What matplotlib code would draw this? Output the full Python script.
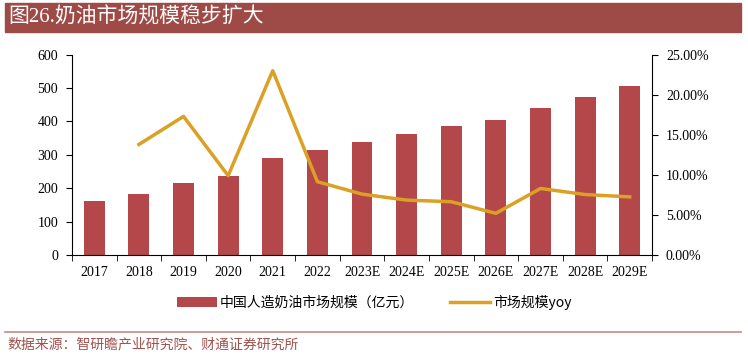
import matplotlib.pyplot as plt
from matplotlib.patches import Rectangle
from matplotlib.lines import Line2D

years = ['2017', '2018', '2019', '2020', '2021', '2022', '2023E',
         '2024E', '2025E', '2026E', '2027E', '2028E', '2029E']
market_size = [161, 184, 215, 236, 290, 316, 339, 361, 386, 405, 439, 472, 506]
yoy_years = years[1:]
yoy = [13.8, 17.3, 9.9, 23.0, 9.15, 7.6, 6.85, 6.65, 5.2, 8.3, 7.55, 7.25]

bar_color = '#B3474A'
line_color = '#DBA024'
serif = ['Liberation Serif', 'Noto Sans CJK SC']
cjk = ['Noto Sans CJK SC', 'DejaVu Sans']

fig = plt.figure(figsize=(7.48, 3.56), dpi=100)

# title bar
fig.patches.append(Rectangle((5 / 748, 1 - 32 / 356), 736 / 748, 29 / 356,
                             transform=fig.transFigure, color='#9E4A46', zorder=0))
fig.text(8 / 748, 1 - 18 / 356, '图26.奶油市场规模稳步扩大', color='white',
         fontsize=15, va='center', ha='left', family=serif)

# bottom rule + source
fig.add_artist(Line2D([5 / 748, 741 / 748], [1 - 332 / 356, 1 - 332 / 356],
                      transform=fig.transFigure, color='#C88A85', lw=1.2))
fig.text(7 / 748, 1 - 344 / 356, '数据来源：智研瞻产业研究院、财通证券研究所',
         color='#A0524D', fontsize=10, va='center', ha='left', family=cjk)

ax = fig.add_axes([72 / 748, 1 - 255 / 356, 580 / 748, 200.3 / 356])
x = list(range(len(years)))
ax.bar(x, market_size, width=0.47, color=bar_color, zorder=2,
       label='中国人造奶油市场规模（亿元）')
ax.set_xlim(-0.5, len(years) - 0.5)
ax.set_ylim(0, 600)
ax.set_yticks(range(0, 601, 100))
ax.set_xticks(x)
ax.set_xticklabels(years)
ax.tick_params(axis='x', length=0, pad=8)
ax.set_xticks([i + 0.5 for i in range(-1, len(years))], minor=True)
ax.tick_params(axis='x', which='minor', length=4, direction='out')
ax.tick_params(axis='y', length=4, direction='out', pad=6)
for lab in ax.get_xticklabels() + ax.get_yticklabels():
    lab.set_family(serif)
    lab.set_fontsize(10)
for s in ['top', 'right']:
    ax.spines[s].set_visible(False)

ax2 = ax.twinx()
ax2.plot(x[1:], yoy, color=line_color, lw=2.5, zorder=3, label='市场规模yoy')
ax2.set_ylim(0, 25)
ax2.set_yticks(range(0, 26, 5))
ax2.set_yticklabels([f'{v:.2f}%' for v in range(0, 26, 5)])
ax2.tick_params(axis='y', length=4, direction='out', pad=6)
for lab in ax2.get_yticklabels():
    lab.set_family(serif)
    lab.set_fontsize(10)
for s in ['top', 'left', 'bottom']:
    ax2.spines[s].set_visible(False)

h1, l1 = ax.get_legend_handles_labels()
h2, l2 = ax2.get_legend_handles_labels()
leg = fig.legend(h1 + h2, l1 + l2, loc='center', bbox_to_anchor=(0.5, 1 - 302 / 356),
                 ncol=2, frameon=False, columnspacing=2.6, handlelength=2.9,
                 handletextpad=0.2, prop={'family': cjk, 'size': 10})

fig.savefig('out.png', dpi=100)
